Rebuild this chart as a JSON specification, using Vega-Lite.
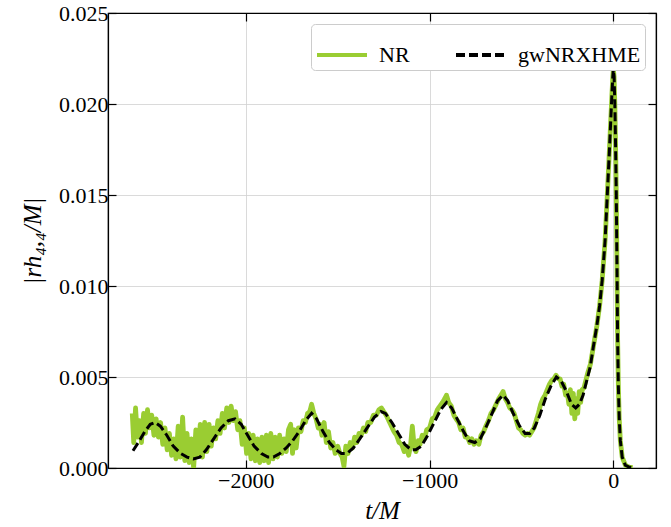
{
  "$schema": "https://vega.github.io/schema/vega-lite/v6.json",
  "width": 548,
  "height": 455,
  "autosize": "none",
  "padding": {"left": 108, "top": 13, "right": 15, "bottom": 59},
  "background": "white",
  "config": {
    "view": {"stroke": "black", "strokeWidth": 1.2},
    "font": "Liberation Serif",
    "axis": {"labelFont": "Liberation Serif", "titleFont": "Liberation Serif"}
  },
  "datasets": {
    "nr": [
      {"t": -2618, "v": 0.0030}, {"t": -2610, "v": 0.0014}, {"t": -2600, "v": 0.0033}, {"t": -2590, "v": 0.0017},
      {"t": -2578, "v": 0.0026}, {"t": -2568, "v": 0.0014}, {"t": -2556, "v": 0.0030}, {"t": -2546, "v": 0.0019},
      {"t": -2535, "v": 0.0032}, {"t": -2524, "v": 0.0022}, {"t": -2512, "v": 0.0029}, {"t": -2500, "v": 0.0018},
      {"t": -2488, "v": 0.0027}, {"t": -2476, "v": 0.0017}, {"t": -2464, "v": 0.0025}, {"t": -2452, "v": 0.0013},
      {"t": -2440, "v": 0.0022}, {"t": -2428, "v": 0.0010}, {"t": -2416, "v": 0.0019}, {"t": -2404, "v": 0.0007},
      {"t": -2392, "v": 0.0016}, {"t": -2380, "v": 0.0005}, {"t": -2368, "v": 0.0023}, {"t": -2356, "v": 0.0006},
      {"t": -2344, "v": 0.0028}, {"t": -2332, "v": 0.0004}, {"t": -2320, "v": 0.0019}, {"t": -2308, "v": 0.0003},
      {"t": -2296, "v": 0.0016}, {"t": -2284, "v": 0.0000}, {"t": -2272, "v": 0.0021}, {"t": -2260, "v": 0.0007},
      {"t": -2248, "v": 0.0024}, {"t": -2236, "v": 0.0006}, {"t": -2224, "v": 0.0025}, {"t": -2212, "v": 0.0009},
      {"t": -2200, "v": 0.0024}, {"t": -2188, "v": 0.0012}, {"t": -2176, "v": 0.0022}, {"t": -2164, "v": 0.0016},
      {"t": -2152, "v": 0.0026}, {"t": -2140, "v": 0.0019}, {"t": -2128, "v": 0.0030}, {"t": -2116, "v": 0.0022},
      {"t": -2104, "v": 0.0033}, {"t": -2092, "v": 0.0025}, {"t": -2080, "v": 0.0034}, {"t": -2068, "v": 0.0026},
      {"t": -2056, "v": 0.0031}, {"t": -2044, "v": 0.0021}, {"t": -2032, "v": 0.0026}, {"t": -2020, "v": 0.0013},
      {"t": -2008, "v": 0.0022}, {"t": -1996, "v": 0.0008}, {"t": -1984, "v": 0.0019}, {"t": -1972, "v": 0.0005},
      {"t": -1960, "v": 0.0018}, {"t": -1948, "v": 0.0004}, {"t": -1936, "v": 0.0016}, {"t": -1924, "v": 0.0003},
      {"t": -1912, "v": 0.0017}, {"t": -1900, "v": 0.0004}, {"t": -1888, "v": 0.0018}, {"t": -1876, "v": 0.0003},
      {"t": -1864, "v": 0.0019}, {"t": -1852, "v": 0.0005}, {"t": -1840, "v": 0.0017}, {"t": -1828, "v": 0.0006},
      {"t": -1816, "v": 0.0018}, {"t": -1804, "v": 0.0008}, {"t": -1792, "v": 0.0016}, {"t": -1780, "v": 0.0009},
      {"t": -1768, "v": 0.0021}, {"t": -1756, "v": 0.0024}, {"t": -1746, "v": 0.0008}, {"t": -1736, "v": 0.0021},
      {"t": -1726, "v": 0.0011}, {"t": -1714, "v": 0.0022}, {"t": -1700, "v": 0.0020}, {"t": -1688, "v": 0.0026},
      {"t": -1676, "v": 0.0025}, {"t": -1664, "v": 0.0030}, {"t": -1652, "v": 0.0031}, {"t": -1642, "v": 0.0035},
      {"t": -1630, "v": 0.0030}, {"t": -1618, "v": 0.0027}, {"t": -1606, "v": 0.0022}, {"t": -1596, "v": 0.0024},
      {"t": -1586, "v": 0.0018}, {"t": -1574, "v": 0.0025}, {"t": -1562, "v": 0.0014}, {"t": -1550, "v": 0.0020},
      {"t": -1538, "v": 0.0011}, {"t": -1526, "v": 0.0014}, {"t": -1514, "v": 0.0008}, {"t": -1500, "v": 0.0012},
      {"t": -1488, "v": 0.0008}, {"t": -1476, "v": 0.0006}, {"t": -1466, "v": 0.0001}, {"t": -1456, "v": 0.0012},
      {"t": -1444, "v": 0.0008}, {"t": -1432, "v": 0.0014}, {"t": -1420, "v": 0.0011}, {"t": -1408, "v": 0.0017},
      {"t": -1396, "v": 0.0014}, {"t": -1384, "v": 0.0019}, {"t": -1372, "v": 0.0018}, {"t": -1360, "v": 0.0022},
      {"t": -1348, "v": 0.0020}, {"t": -1336, "v": 0.0025}, {"t": -1320, "v": 0.0025}, {"t": -1306, "v": 0.0029},
      {"t": -1290, "v": 0.0029}, {"t": -1276, "v": 0.0032}, {"t": -1262, "v": 0.0033}, {"t": -1250, "v": 0.0031},
      {"t": -1236, "v": 0.0029}, {"t": -1222, "v": 0.0026}, {"t": -1208, "v": 0.0023}, {"t": -1194, "v": 0.0020},
      {"t": -1180, "v": 0.0018}, {"t": -1166, "v": 0.0014}, {"t": -1152, "v": 0.0013}, {"t": -1138, "v": 0.0009},
      {"t": -1126, "v": 0.0012}, {"t": -1114, "v": 0.0007}, {"t": -1104, "v": 0.0012}, {"t": -1094, "v": 0.0023},
      {"t": -1084, "v": 0.0012}, {"t": -1074, "v": 0.0009}, {"t": -1062, "v": 0.0015}, {"t": -1052, "v": 0.0013},
      {"t": -1040, "v": 0.0018}, {"t": -1028, "v": 0.0016}, {"t": -1016, "v": 0.0021}, {"t": -1000, "v": 0.0022},
      {"t": -986, "v": 0.0027}, {"t": -972, "v": 0.0028}, {"t": -958, "v": 0.0032}, {"t": -944, "v": 0.0034},
      {"t": -930, "v": 0.0036}, {"t": -918, "v": 0.0038}, {"t": -908, "v": 0.0040}, {"t": -896, "v": 0.0036},
      {"t": -882, "v": 0.0034}, {"t": -868, "v": 0.0029}, {"t": -856, "v": 0.0027}, {"t": -842, "v": 0.0025},
      {"t": -830, "v": 0.0021}, {"t": -818, "v": 0.0022}, {"t": -806, "v": 0.0017}, {"t": -794, "v": 0.0017},
      {"t": -782, "v": 0.0014}, {"t": -770, "v": 0.0016}, {"t": -758, "v": 0.0013}, {"t": -746, "v": 0.0015},
      {"t": -732, "v": 0.0013}, {"t": -720, "v": 0.0018}, {"t": -706, "v": 0.0020}, {"t": -694, "v": 0.0023},
      {"t": -680, "v": 0.0026}, {"t": -666, "v": 0.0030}, {"t": -652, "v": 0.0032}, {"t": -638, "v": 0.0035},
      {"t": -624, "v": 0.0038}, {"t": -612, "v": 0.0040}, {"t": -600, "v": 0.0042}, {"t": -588, "v": 0.0038},
      {"t": -576, "v": 0.0036}, {"t": -564, "v": 0.0033}, {"t": -552, "v": 0.0032}, {"t": -540, "v": 0.0030},
      {"t": -528, "v": 0.0026}, {"t": -516, "v": 0.0022}, {"t": -504, "v": 0.0021}, {"t": -492, "v": 0.0019},
      {"t": -480, "v": 0.0018}, {"t": -468, "v": 0.0019}, {"t": -456, "v": 0.0018}, {"t": -444, "v": 0.0020},
      {"t": -432, "v": 0.0022}, {"t": -420, "v": 0.0026}, {"t": -408, "v": 0.0030}, {"t": -396, "v": 0.0035},
      {"t": -384, "v": 0.0038}, {"t": -372, "v": 0.0040}, {"t": -360, "v": 0.0043}, {"t": -348, "v": 0.0046},
      {"t": -336, "v": 0.0048}, {"t": -324, "v": 0.0049}, {"t": -312, "v": 0.0051}, {"t": -300, "v": 0.0049},
      {"t": -290, "v": 0.0049}, {"t": -280, "v": 0.0045}, {"t": -270, "v": 0.0046}, {"t": -260, "v": 0.0040},
      {"t": -250, "v": 0.0041}, {"t": -242, "v": 0.0035}, {"t": -234, "v": 0.0043}, {"t": -226, "v": 0.0030},
      {"t": -218, "v": 0.0041}, {"t": -210, "v": 0.0027}, {"t": -202, "v": 0.0038}, {"t": -194, "v": 0.0030},
      {"t": -186, "v": 0.0042}, {"t": -178, "v": 0.0036}, {"t": -170, "v": 0.0043}, {"t": -160, "v": 0.0044},
      {"t": -150, "v": 0.0048}, {"t": -140, "v": 0.0052}, {"t": -125, "v": 0.0057}, {"t": -110, "v": 0.0066},
      {"t": -90, "v": 0.0078}, {"t": -75, "v": 0.0089}, {"t": -61, "v": 0.0103}, {"t": -45, "v": 0.0125},
      {"t": -34, "v": 0.0148}, {"t": -25, "v": 0.0167}, {"t": -16, "v": 0.0187}, {"t": -8, "v": 0.0205},
      {"t": -3, "v": 0.0215}, {"t": 0, "v": 0.0219}, {"t": 4, "v": 0.0215}, {"t": 8, "v": 0.0200},
      {"t": 12, "v": 0.0178}, {"t": 16, "v": 0.0150}, {"t": 20, "v": 0.0108}, {"t": 23, "v": 0.0072},
      {"t": 27, "v": 0.0046}, {"t": 32, "v": 0.0027}, {"t": 38, "v": 0.0015}, {"t": 48, "v": 0.0006},
      {"t": 65, "v": 0.00016}, {"t": 85, "v": 0.00005}, {"t": 105, "v": 0.00002}
    ],
    "model": [
      {"t": -2614, "v": 0.00095}, {"t": -2585, "v": 0.0014}, {"t": -2550, "v": 0.0020}, {"t": -2520, "v": 0.0024},
      {"t": -2494, "v": 0.0025}, {"t": -2465, "v": 0.0023}, {"t": -2430, "v": 0.0018}, {"t": -2395, "v": 0.0012},
      {"t": -2355, "v": 0.0008}, {"t": -2320, "v": 0.0006}, {"t": -2286, "v": 0.0005}, {"t": -2250, "v": 0.0006},
      {"t": -2215, "v": 0.0010}, {"t": -2175, "v": 0.0016}, {"t": -2135, "v": 0.0022}, {"t": -2095, "v": 0.0026},
      {"t": -2059, "v": 0.0027}, {"t": -2025, "v": 0.0024}, {"t": -1990, "v": 0.0018}, {"t": -1955, "v": 0.0012},
      {"t": -1915, "v": 0.0008}, {"t": -1880, "v": 0.0006}, {"t": -1850, "v": 0.0006}, {"t": -1815, "v": 0.0008},
      {"t": -1780, "v": 0.0011}, {"t": -1745, "v": 0.0015}, {"t": -1710, "v": 0.0020}, {"t": -1675, "v": 0.0026},
      {"t": -1642, "v": 0.0030}, {"t": -1615, "v": 0.0027}, {"t": -1580, "v": 0.0020}, {"t": -1545, "v": 0.0014},
      {"t": -1510, "v": 0.0010}, {"t": -1480, "v": 0.0008}, {"t": -1450, "v": 0.0008}, {"t": -1415, "v": 0.0011},
      {"t": -1380, "v": 0.0016}, {"t": -1340, "v": 0.0022}, {"t": -1300, "v": 0.0028}, {"t": -1265, "v": 0.0031},
      {"t": -1240, "v": 0.0030}, {"t": -1205, "v": 0.0025}, {"t": -1170, "v": 0.0019}, {"t": -1135, "v": 0.0013},
      {"t": -1100, "v": 0.0010}, {"t": -1075, "v": 0.0010}, {"t": -1045, "v": 0.0012}, {"t": -1010, "v": 0.0018},
      {"t": -975, "v": 0.0025}, {"t": -940, "v": 0.0032}, {"t": -908, "v": 0.0036}, {"t": -880, "v": 0.0033},
      {"t": -850, "v": 0.0027}, {"t": -815, "v": 0.0020}, {"t": -785, "v": 0.0015}, {"t": -754, "v": 0.0014},
      {"t": -725, "v": 0.0016}, {"t": -695, "v": 0.0022}, {"t": -660, "v": 0.0030}, {"t": -630, "v": 0.0037},
      {"t": -600, "v": 0.0040}, {"t": -575, "v": 0.0037}, {"t": -545, "v": 0.0030}, {"t": -510, "v": 0.0023},
      {"t": -480, "v": 0.0019}, {"t": -455, "v": 0.0019}, {"t": -430, "v": 0.0022}, {"t": -400, "v": 0.0029},
      {"t": -370, "v": 0.0038}, {"t": -340, "v": 0.0045}, {"t": -310, "v": 0.0050}, {"t": -285, "v": 0.0048},
      {"t": -255, "v": 0.0042}, {"t": -228, "v": 0.0035}, {"t": -205, "v": 0.0033}, {"t": -185, "v": 0.0035},
      {"t": -165, "v": 0.0040}, {"t": -145, "v": 0.0048}, {"t": -125, "v": 0.0056}, {"t": -110, "v": 0.0066},
      {"t": -90, "v": 0.0078}, {"t": -75, "v": 0.0089}, {"t": -61, "v": 0.0103}, {"t": -45, "v": 0.0125},
      {"t": -34, "v": 0.0148}, {"t": -25, "v": 0.0167}, {"t": -16, "v": 0.0187}, {"t": -8, "v": 0.0205},
      {"t": -3, "v": 0.0215}, {"t": 0, "v": 0.0219}, {"t": 4, "v": 0.0215}, {"t": 8, "v": 0.0200},
      {"t": 12, "v": 0.0178}, {"t": 16, "v": 0.0150}, {"t": 20, "v": 0.0108}, {"t": 23, "v": 0.0072},
      {"t": 27, "v": 0.0046}, {"t": 32, "v": 0.0027}, {"t": 38, "v": 0.0015}, {"t": 48, "v": 0.0006},
      {"t": 65, "v": 0.00016}, {"t": 85, "v": 0.00005}, {"t": 105, "v": 0.00002}
    ]
  },
  "layer": [
    {
      "data": {"name": "nr"},
      "transform": [{"calculate": "'NR'", "as": "series"}],
      "mark": {"type": "line", "strokeWidth": 4.8, "strokeJoin": "round", "strokeCap": "butt", "clip": true},
      "encoding": {
        "x": {"field": "t", "type": "quantitative",
          "scale": {"domain": [-2750, 232], "nice": false, "zero": false},
          "axis": {"values": [-2000, -1000, 0], "format": "d", "title": "t/M", "titleFontStyle": "italic", "titleFontWeight": "normal", "titleFontSize": 25, "titlePadding": 7, "labelFontSize": 22, "labelColor": "black", "labelPadding": 10, "tickSize": -8, "tickWidth": 1.2, "tickColor": "black", "domainColor": "black", "domainWidth": 1.2, "grid": true, "gridColor": "#d0d0d0", "gridWidth": 0.8}},
        "y": {"field": "v", "type": "quantitative",
          "scale": {"domain": [0, 0.025], "nice": false},
          "axis": {"values": [0, 0.005, 0.01, 0.015, 0.02, 0.025], "format": ".3f", "title": "|rh₄,₄/M|", "titleFontStyle": "italic", "titleFontWeight": "normal", "titleFontSize": 25, "titlePadding": 13, "labelFontSize": 22, "labelColor": "black", "labelPadding": 8, "tickSize": -8, "tickWidth": 1.2, "tickColor": "black", "domainColor": "black", "domainWidth": 1.2, "grid": true, "gridColor": "#d0d0d0", "gridWidth": 0.8}},
        "color": {"field": "series", "type": "nominal",
          "scale": {"domain": ["NR", "gwNRXHME"], "range": ["#9acd32", "#000000"]},
          "legend": {"title": null, "orient": "top-right", "direction": "horizontal", "offset": 11, "symbolType": "stroke", "symbolSize": 2500, "symbolStrokeWidth": 4, "labelFontSize": 22, "labelFont": "Liberation Serif", "labelColor": "black", "labelOffset": 10, "columnPadding": 38, "padding": 4, "strokeColor": "#cccccc", "cornerRadius": 4, "fillColor": "white"}},
        "strokeDash": {"field": "series", "type": "nominal",
          "scale": {"domain": ["NR", "gwNRXHME"], "range": [[1, 0], [9, 4]]},
          "legend": {"title": null, "orient": "top-right", "direction": "horizontal", "offset": 11, "symbolType": "stroke", "symbolSize": 2500, "symbolStrokeWidth": 4, "labelFontSize": 22, "labelFont": "Liberation Serif", "labelColor": "black", "labelOffset": 10, "columnPadding": 38, "padding": 4, "strokeColor": "#cccccc", "cornerRadius": 4, "fillColor": "white"}}
      }
    },
    {
      "data": {"name": "model"},
      "transform": [{"calculate": "'gwNRXHME'", "as": "series"}],
      "mark": {"type": "line", "strokeWidth": 3, "strokeCap": "butt", "clip": true},
      "encoding": {
        "x": {"field": "t", "type": "quantitative", "axis": null},
        "y": {"field": "v", "type": "quantitative", "axis": null},
        "color": {"field": "series", "type": "nominal"},
        "strokeDash": {"field": "series", "type": "nominal"}
      }
    },
    {
      "data": {"name": "model"},
      "mark": {"type": "line", "opacity": 0},
      "encoding": {
        "x": {"field": "t", "type": "quantitative",
          "axis": {"orient": "top", "values": [-2000, -1000, 0], "labels": false, "title": null, "tickSize": -8, "tickWidth": 1.2, "tickColor": "black", "domainColor": "black", "domainWidth": 1.2, "grid": false}},
        "y": {"field": "v", "type": "quantitative",
          "axis": {"orient": "right", "values": [0, 0.005, 0.01, 0.015, 0.02, 0.025], "labels": false, "title": null, "tickSize": -8, "tickWidth": 1.2, "tickColor": "black", "domainColor": "black", "domainWidth": 1.2, "grid": false}}
      }
    }
  ],
  "resolve": {"axis": {"x": "independent", "y": "independent"}}
}
